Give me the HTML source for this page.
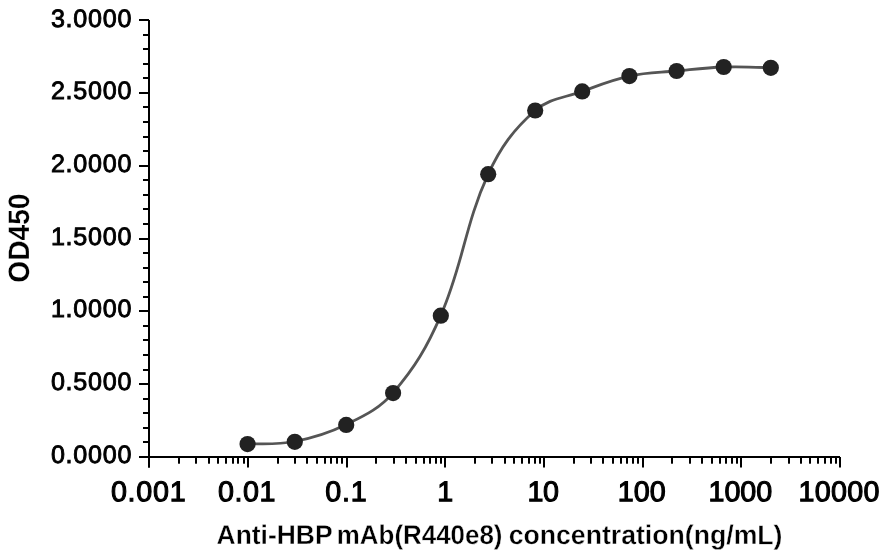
<!DOCTYPE html><html><head><meta charset="utf-8"><title>chart</title>
<style>html,body{margin:0;padding:0;background:#fff;}svg{display:block;will-change:transform;}text{font-family:"Liberation Sans",sans-serif;fill:#000;}</style></head><body>
<svg width="883" height="553" viewBox="0 0 883 553">
<rect width="883" height="553" fill="#fff"/>
<g fill="#000"><rect x="148" y="20" width="2" height="447.5"/><rect x="139" y="456" width="701" height="2"/><rect x="139" y="456" width="10" height="2"/><rect x="143" y="441" width="6" height="2"/><rect x="143" y="427" width="6" height="2"/><rect x="143" y="412" width="6" height="2"/><rect x="143" y="398" width="6" height="2"/><rect x="139" y="383" width="10" height="2"/><rect x="143" y="369" width="6" height="2"/><rect x="143" y="354" width="6" height="2"/><rect x="143" y="339" width="6" height="2"/><rect x="143" y="325" width="6" height="2"/><rect x="139" y="310" width="10" height="2"/><rect x="143" y="296" width="6" height="2"/><rect x="143" y="281" width="6" height="2"/><rect x="143" y="267" width="6" height="2"/><rect x="143" y="252" width="6" height="2"/><rect x="139" y="238" width="10" height="2"/><rect x="143" y="223" width="6" height="2"/><rect x="143" y="208" width="6" height="2"/><rect x="143" y="194" width="6" height="2"/><rect x="143" y="179" width="6" height="2"/><rect x="139" y="165" width="10" height="2"/><rect x="143" y="150" width="6" height="2"/><rect x="143" y="136" width="6" height="2"/><rect x="143" y="121" width="6" height="2"/><rect x="143" y="106" width="6" height="2"/><rect x="139" y="92" width="10" height="2"/><rect x="143" y="77" width="6" height="2"/><rect x="143" y="63" width="6" height="2"/><rect x="143" y="48" width="6" height="2"/><rect x="143" y="34" width="6" height="2"/><rect x="139" y="19" width="10" height="2"/><rect x="148" y="457" width="2" height="10.5"/><rect x="178" y="457" width="2" height="6.7"/><rect x="195" y="457" width="2" height="6.7"/><rect x="208" y="457" width="2" height="6.7"/><rect x="217" y="457" width="2" height="6.7"/><rect x="225" y="457" width="2" height="6.7"/><rect x="232" y="457" width="2" height="6.7"/><rect x="237" y="457" width="2" height="6.7"/><rect x="243" y="457" width="2" height="6.7"/><rect x="247" y="457" width="2" height="10.5"/><rect x="277" y="457" width="2" height="6.7"/><rect x="294" y="457" width="2" height="6.7"/><rect x="306" y="457" width="2" height="6.7"/><rect x="316" y="457" width="2" height="6.7"/><rect x="324" y="457" width="2" height="6.7"/><rect x="330" y="457" width="2" height="6.7"/><rect x="336" y="457" width="2" height="6.7"/><rect x="341" y="457" width="2" height="6.7"/><rect x="346" y="457" width="2" height="10.5"/><rect x="375" y="457" width="2" height="6.7"/><rect x="393" y="457" width="2" height="6.7"/><rect x="405" y="457" width="2" height="6.7"/><rect x="415" y="457" width="2" height="6.7"/><rect x="423" y="457" width="2" height="6.7"/><rect x="429" y="457" width="2" height="6.7"/><rect x="435" y="457" width="2" height="6.7"/><rect x="440" y="457" width="2" height="6.7"/><rect x="444" y="457" width="2" height="10.5"/><rect x="474" y="457" width="2" height="6.7"/><rect x="491" y="457" width="2" height="6.7"/><rect x="504" y="457" width="2" height="6.7"/><rect x="513" y="457" width="2" height="6.7"/><rect x="521" y="457" width="2" height="6.7"/><rect x="528" y="457" width="2" height="6.7"/><rect x="534" y="457" width="2" height="6.7"/><rect x="539" y="457" width="2" height="6.7"/><rect x="543" y="457" width="2" height="10.5"/><rect x="573" y="457" width="2" height="6.7"/><rect x="590" y="457" width="2" height="6.7"/><rect x="602" y="457" width="2" height="6.7"/><rect x="612" y="457" width="2" height="6.7"/><rect x="620" y="457" width="2" height="6.7"/><rect x="626" y="457" width="2" height="6.7"/><rect x="632" y="457" width="2" height="6.7"/><rect x="637" y="457" width="2" height="6.7"/><rect x="642" y="457" width="2" height="10.5"/><rect x="671" y="457" width="2" height="6.7"/><rect x="689" y="457" width="2" height="6.7"/><rect x="701" y="457" width="2" height="6.7"/><rect x="711" y="457" width="2" height="6.7"/><rect x="719" y="457" width="2" height="6.7"/><rect x="725" y="457" width="2" height="6.7"/><rect x="731" y="457" width="2" height="6.7"/><rect x="736" y="457" width="2" height="6.7"/><rect x="740" y="457" width="2" height="10.5"/><rect x="770" y="457" width="2" height="6.7"/><rect x="788" y="457" width="2" height="6.7"/><rect x="800" y="457" width="2" height="6.7"/><rect x="809" y="457" width="2" height="6.7"/><rect x="817" y="457" width="2" height="6.7"/><rect x="824" y="457" width="2" height="6.7"/><rect x="830" y="457" width="2" height="6.7"/><rect x="835" y="457" width="2" height="6.7"/><rect x="839" y="457" width="2" height="10.5"/></g>
<path d="M247.55 443.60 C247.55 443.60 277.32 444.87 294.80 441.50 C314.80 437.65 327.95 433.64 346.20 424.60 C365.31 415.13 379.30 408.73 393.10 392.80 C415.25 367.24 427.10 346.89 440.80 315.40 C463.24 263.82 464.78 225.04 488.20 174.20 C500.65 147.18 513.43 129.68 535.20 110.50 C549.15 98.21 564.10 98.01 582.20 91.40 C599.90 84.94 611.07 80.06 629.40 76.10 C646.94 72.31 658.64 72.73 676.60 71.00 C694.48 69.27 705.77 67.61 723.70 67.00 C741.57 66.39 770.80 67.80 770.80 67.80" fill="none" stroke="#555" stroke-width="2.8" stroke-linecap="round" stroke-linejoin="round"/>
<g fill="#222"><circle cx="247.55" cy="444.10" r="8.1"/><circle cx="294.80" cy="441.80" r="8.1"/><circle cx="346.20" cy="424.90" r="8.1"/><circle cx="393.10" cy="393.10" r="8.1"/><circle cx="440.80" cy="315.70" r="8.1"/><circle cx="488.20" cy="174.20" r="8.1"/><circle cx="535.20" cy="110.50" r="8.1"/><circle cx="582.20" cy="91.40" r="8.1"/><circle cx="629.40" cy="76.10" r="8.1"/><circle cx="676.60" cy="71.00" r="8.1"/><circle cx="723.70" cy="67.00" r="8.1"/><circle cx="770.80" cy="67.80" r="8.1"/></g>
<text transform="translate(132.15,463.00) rotate(0.03)" font-size="25.1" text-anchor="end" letter-spacing="0.75" stroke="#000" stroke-width="0.9" stroke-linejoin="miter">0.0000</text>
<text transform="translate(132.15,390.00) rotate(0.03)" font-size="25.1" text-anchor="end" letter-spacing="0.75" stroke="#000" stroke-width="0.9" stroke-linejoin="miter">0.5000</text>
<text transform="translate(132.15,317.00) rotate(0.03)" font-size="25.1" text-anchor="end" letter-spacing="0.75" stroke="#000" stroke-width="0.9" stroke-linejoin="miter">1.0000</text>
<text transform="translate(132.15,245.00) rotate(0.03)" font-size="25.1" text-anchor="end" letter-spacing="0.75" stroke="#000" stroke-width="0.9" stroke-linejoin="miter">1.5000</text>
<text transform="translate(132.15,172.00) rotate(0.03)" font-size="25.1" text-anchor="end" letter-spacing="0.75" stroke="#000" stroke-width="0.9" stroke-linejoin="miter">2.0000</text>
<text transform="translate(132.15,99.00) rotate(0.03)" font-size="25.1" text-anchor="end" letter-spacing="0.75" stroke="#000" stroke-width="0.9" stroke-linejoin="miter">2.5000</text>
<text transform="translate(132.15,27.00) rotate(0.03)" font-size="25.1" text-anchor="end" letter-spacing="0.75" stroke="#000" stroke-width="0.9" stroke-linejoin="miter">3.0000</text>
<text transform="translate(148.66,501.25) rotate(0.03)" font-size="28.7" text-anchor="middle" letter-spacing="0.741" stroke="#000" stroke-width="1.1" stroke-linejoin="miter">0.001</text>
<text transform="translate(246.97,501.25) rotate(0.03)" font-size="28.7" text-anchor="middle" letter-spacing="0.573" stroke="#000" stroke-width="1.1" stroke-linejoin="miter">0.01</text>
<text transform="translate(346.34,501.25) rotate(0.03)" font-size="28.7" text-anchor="middle" letter-spacing="0.8" stroke="#000" stroke-width="1.1" stroke-linejoin="miter">0.1</text>
<text transform="translate(445.39,501.25) rotate(0.03)" font-size="28.7" text-anchor="middle" letter-spacing="0.5" stroke="#000" stroke-width="1.1" stroke-linejoin="miter">1</text>
<text transform="translate(543.07,501.25) rotate(0.03)" font-size="28.7" text-anchor="middle" letter-spacing="-0.3" stroke="#000" stroke-width="1.1" stroke-linejoin="miter">10</text>
<text transform="translate(641.73,501.25) rotate(0.03)" font-size="28.7" text-anchor="middle" letter-spacing="-0.015" stroke="#000" stroke-width="1.1" stroke-linejoin="miter">100</text>
<text transform="translate(740.36,501.25) rotate(0.03)" font-size="28.7" text-anchor="middle" letter-spacing="-0.02" stroke="#000" stroke-width="1.1" stroke-linejoin="miter">1000</text>
<text transform="translate(839.13,501.25) rotate(0.03)" font-size="28.7" text-anchor="middle" letter-spacing="0.315" stroke="#000" stroke-width="1.1" stroke-linejoin="miter">10000</text>
<text transform="translate(28.95,282.65) rotate(-89.97)" font-size="29.5" font-weight="bold" stroke="#fff" stroke-width="0.2" textLength="89.10" lengthAdjust="spacingAndGlyphs">OD450</text>
<text transform="translate(216.57,544.00) rotate(0.03)" font-size="27.0" font-weight="bold" stroke="#fff" stroke-width="0.35" textLength="115.95" lengthAdjust="spacingAndGlyphs">Anti-HBP</text>
<text transform="translate(336.82,544.00) rotate(0.03)" font-size="27.0" font-weight="bold" stroke="#fff" stroke-width="0.35" textLength="165.60" lengthAdjust="spacingAndGlyphs">mAb(R440e8)</text>
<text transform="translate(508.65,544.00) rotate(0.03)" font-size="27.0" font-weight="bold" stroke="#fff" stroke-width="0.35" textLength="273.85" lengthAdjust="spacingAndGlyphs">concentration(ng/mL)</text>
</svg></body></html>
